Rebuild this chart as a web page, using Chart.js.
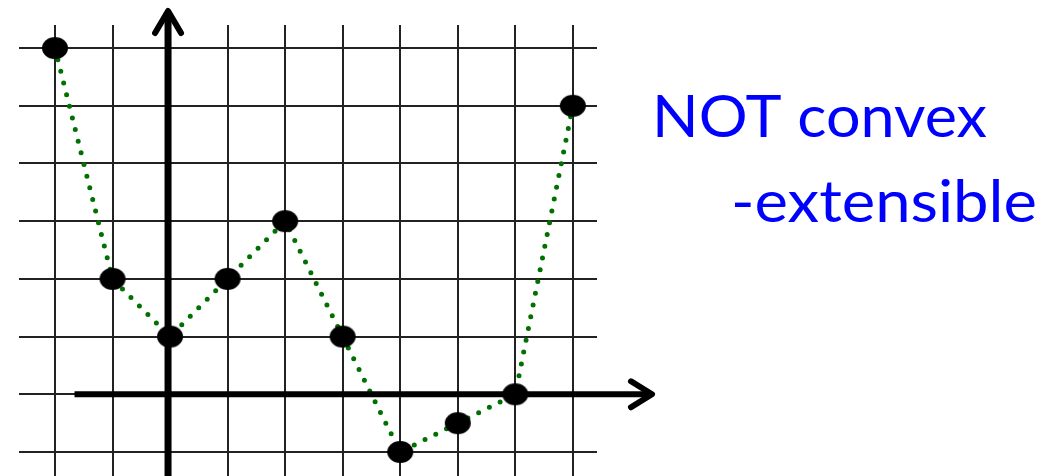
<!DOCTYPE html>
<html>
<head>
<meta charset="utf-8">
<script src="https://cdn.jsdelivr.net/npm/chart.js@4"></script>
<style>
  html, body { margin: 0; padding: 0; background: #fff; }
  .wrap { position: relative; width: 1059px; height: 476px; }
  canvas { display: block; }
</style>
</head>
<body>
<div class="wrap"><canvas id="chart" width="1059" height="476"></canvas></div>
<script>
// data
const xValues = [-2, -1, 0, 1, 2, 3, 4, 5, 6, 7];
const yValues = [6, 2, 1, 2, 3, 1, -1, -0.5, 0, 5];
const xTicks = [-2, -1, 0, 1, 2, 3, 4, 5, 6, 7];
const yTicks = [-1, 0, 1, 2, 3, 4, 5, 6];
const labelLines = ['NOT convex', '-extensible'];

// black ellipse marker
const dot = document.createElement('canvas');
dot.width = 28; dot.height = 24;
const dctx = dot.getContext('2d');
dctx.fillStyle = '#000';
dctx.beginPath();
dctx.ellipse(14, 12, 13, 11, 0, 0, Math.PI * 2);
dctx.fill();

// draws text stretched to a given width
function fitText(ctx, txt, x, y, w) {
  const m = ctx.measureText(txt).width;
  ctx.save();
  ctx.translate(x, y);
  ctx.scale(w / m, 1);
  ctx.fillText(txt, 0, 0);
  ctx.restore();
}

// thick axes with arrow heads + the blue label
const axesPlugin = {
  id: 'axesPlugin',
  afterDatasetsDraw(chart) {
    const ctx = chart.ctx;
    const xs = chart.scales.x, ys = chart.scales.y;
    const x0 = xs.getPixelForValue(0) - 2;
    const y0 = ys.getPixelForValue(0);
    ctx.save();
    ctx.strokeStyle = '#000';
    ctx.lineCap = 'butt';
    // y axis
    ctx.lineWidth = 7;
    ctx.beginPath();
    ctx.moveTo(x0, chart.height);
    ctx.lineTo(x0, 12);
    ctx.stroke();
    // x axis
    ctx.lineWidth = 6;
    ctx.beginPath();
    ctx.moveTo(xs.getPixelForValue(-1.66), y0);
    ctx.lineTo(651, y0);
    ctx.stroke();
    // arrow heads
    ctx.lineCap = 'round';
    ctx.lineJoin = 'round';
    ctx.lineWidth = 6;
    ctx.beginPath();
    ctx.moveTo(x0 - 13, 33);
    ctx.lineTo(x0, 11);
    ctx.lineTo(x0 + 13, 33);
    ctx.stroke();
    ctx.beginPath();
    ctx.moveTo(631, y0 - 13);
    ctx.lineTo(652, y0);
    ctx.lineTo(631, y0 + 13);
    ctx.stroke();
    ctx.restore();
  },
  afterDraw(chart) {
    const ctx = chart.ctx;
    ctx.save();
    ctx.fillStyle = '#0000ff';
    ctx.font = '59px Lato';
    ctx.textBaseline = 'alphabetic';
    fitText(ctx, labelLines[0], 652, 137, 335);
    fitText(ctx, labelLines[1], 731, 222, 306);
    ctx.restore();
  }
};

new Chart(document.getElementById('chart'), {
  type: 'scatter',
  data: {
    datasets: [{
      data: xValues.map((x, i) => ({ x: x, y: yValues[i] })),
      showLine: true,
      borderColor: '#007000',
      borderWidth: 5,
      borderDash: [0, 12],
      borderCapStyle: 'round',
      tension: 0,
      pointStyle: dot,
      pointRadius: 12,
      pointHoverRadius: 12
    }]
  },
  options: {
    responsive: false,
    animation: false,
    events: [],
    layout: { autoPadding: false, padding: { left: 19, top: 25, right: 462, bottom: 0 } },
    plugins: { legend: { display: false }, tooltip: { enabled: false } },
    scales: {
      x: {
        type: 'linear',
        min: -2.625,
        max: 7.42,
        afterBuildTicks: s => { s.ticks = xTicks.map(v => ({ value: v })); },
        afterFit: s => { s.height = 0; },
        ticks: { display: false },
        border: { display: false },
        grid: { color: '#222', lineWidth: 2, drawTicks: false }
      },
      y: {
        type: 'linear',
        min: -1.416,
        max: 6.4,
        afterBuildTicks: s => { s.ticks = yTicks.map(v => ({ value: v })); },
        afterFit: s => { s.width = 0; },
        ticks: { display: false },
        border: { display: false },
        grid: { color: '#222', lineWidth: 2, drawTicks: false }
      }
    }
  },
  plugins: [axesPlugin]
});
</script>
</body>
</html>
